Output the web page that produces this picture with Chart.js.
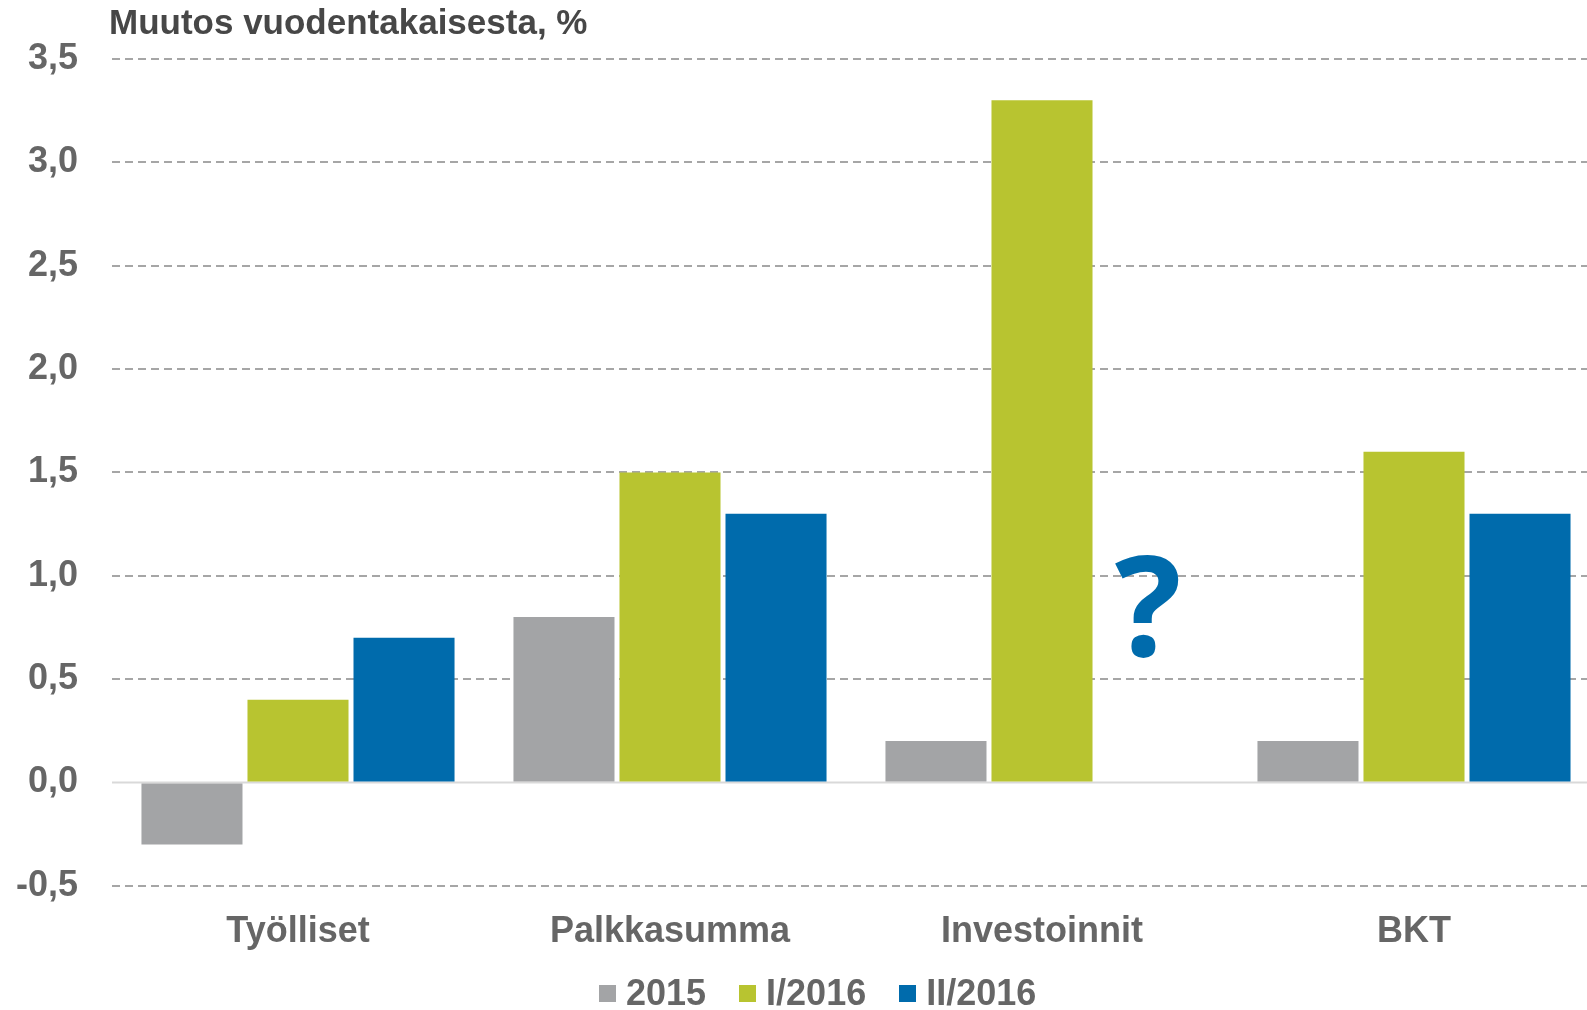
<!DOCTYPE html>
<html>
<head>
<meta charset="utf-8">
<script src="https://cdn.jsdelivr.net/npm/chart.js@4/dist/chart.umd.min.js"></script>
<style>
  html, body { margin: 0; padding: 0; background: #fff; }
  #wrap { width: 1587px; height: 1010px; position: relative; overflow: hidden; }
  /* the plot runs a little past the right edge, like the original */
  #inner { width: 1600px; height: 1010px; position: relative; }
  #legend {
    position: absolute; left: 599px; top: 971px; height: 44px;
    display: flex; align-items: center;
    font: bold 36px "Liberation Sans", Arial, sans-serif; color: #666666;
  }
  #legend .item { display: flex; align-items: center; margin-right: 33px; }
  #legend .box { width: 17px; height: 17px; margin-right: 10px; }
</style>
</head>
<body>
<div id="wrap">
  <div id="inner"><canvas id="chart"></canvas></div>
  <div id="legend"></div>
</div>
<script>
// Chart data
const categories = ['Työlliset', 'Palkkasumma', 'Investoinnit', 'BKT'];
const series2015 = [-0.3, 0.8, 0.2, 0.2];
const seriesI2016 = [0.4, 1.5, 3.3, 1.6];
const seriesII2016 = [0.7, 1.3, null, 1.3];   // Investoinnit not known yet -> "?"
const seriesLabels = ['2015', 'I/2016', 'II/2016'];
const seriesColors = ['#A3A4A6', '#B8C430', '#006BAC'];
const yTicks = [-0.5, 0, 0.5, 1, 1.5, 2, 2.5, 3, 3.5];
const axisTitle = 'Muutos vuodentakaisesta, %';

const FONT = '"Liberation Sans", Arial, sans-serif';

// Title above the value axis, left aligned with the plot
const titlePlugin = {
    id: 'axisTitle',
    afterDraw(chart) {
        const ctx = chart.ctx;
        ctx.save();
        ctx.font = 'bold 35px ' + FONT;
        ctx.fillStyle = '#474747';
        ctx.textAlign = 'left';
        ctx.textBaseline = 'middle';
        ctx.fillText(axisTitle, chart.chartArea.left - 3, 24);
        ctx.restore();
    }
};

// Solid zero line (other grid lines are dashed)
const zeroLinePlugin = {
    id: 'zeroLine',
    beforeDatasetsDraw(chart) {
        const y = chart.scales.y.getPixelForValue(0);
        const ctx = chart.ctx;
        ctx.save();
        ctx.strokeStyle = '#D9D9D9';
        ctx.lineWidth = 2;
        ctx.beginPath();
        ctx.moveTo(chart.chartArea.left, y);
        ctx.lineTo(chart.chartArea.right, y);
        ctx.stroke();
        ctx.restore();
    }
};

// Blue question mark where the missing II/2016 Investoinnit bar would be
const questionPlugin = {
    id: 'questionMark',
    afterDatasetsDraw(chart) {
        const el = chart.getDatasetMeta(2).data[2];
        const x = el && isFinite(el.x) ? el.x : chart.scales.x.getPixelForValue(2);
        const y = chart.scales.y.getPixelForValue(0.61);
        const ctx = chart.ctx;
        ctx.save();
        ctx.font = 'bold 140px "Open Sans", "Noto Sans", sans-serif';
        ctx.fillStyle = '#006BAC';
        ctx.textAlign = 'center';
        ctx.textBaseline = 'alphabetic';
        ctx.fillText('?', x, y);
        ctx.restore();
    }
};

// Legend as html, built from the series arrays
function buildLegend() {
    const legend = document.getElementById('legend');
    seriesLabels.forEach(function(label, i) {
        const item = document.createElement('div');
        item.className = 'item';
        const box = document.createElement('span');
        box.className = 'box';
        box.style.background = seriesColors[i];
        item.appendChild(box);
        item.appendChild(document.createTextNode(label));
        legend.appendChild(item);
    });
}

function makeChart() {
    const ctx = document.getElementById('chart').getContext('2d');

    new Chart(ctx, {
        type: 'bar',
        data: {
            labels: categories,
            datasets: [
                { label: seriesLabels[0], data: series2015, backgroundColor: seriesColors[0] },
                { label: seriesLabels[1], data: seriesI2016, backgroundColor: seriesColors[1] },
                { label: seriesLabels[2], data: seriesII2016, backgroundColor: seriesColors[2] }
            ]
        },
        options: {
            responsive: true,
            maintainAspectRatio: false,
            animation: false,
            layout: { padding: { top: 59, left: 14, right: 0, bottom: 39 } },
            datasets: {
                bar: { categoryPercentage: 0.855, barPercentage: 0.953 }
            },
            plugins: {
                legend: { display: false },
                tooltip: { enabled: false }
            },
            scales: {
                x: {
                    grid: { display: false },
                    border: { display: false },
                    ticks: {
                        color: '#666666',
                        padding: 17,
                        font: { family: FONT, size: 36, weight: 'bold' }
                    }
                },
                y: {
                    min: yTicks[0],
                    max: yTicks[yTicks.length - 1],
                    afterBuildTicks: function(scale) {
                        scale.ticks = yTicks.map(v => ({ value: v }));
                    },
                    afterFit: function(scale) {
                        scale.width = 98;
                    },
                    grid: {
                        color: function(c) {
                            return c.tick && c.tick.value === 0 ? 'rgba(0,0,0,0)' : '#A6A6A6';
                        },
                        lineWidth: 2,
                        drawTicks: false
                    },
                    border: { display: false, dash: [8, 5] },
                    ticks: {
                        color: '#666666',
                        padding: 34,
                        font: { family: FONT, size: 36, weight: 'bold' },
                        callback: function(value) {
                            return value.toFixed(1).replace('.', ',');
                        }
                    }
                }
            }
        },
        plugins: [titlePlugin, zeroLinePlugin, questionPlugin]
    });
}

document.addEventListener('DOMContentLoaded', function() {
    buildLegend();
    makeChart();
});
</script>
</body>
</html>
